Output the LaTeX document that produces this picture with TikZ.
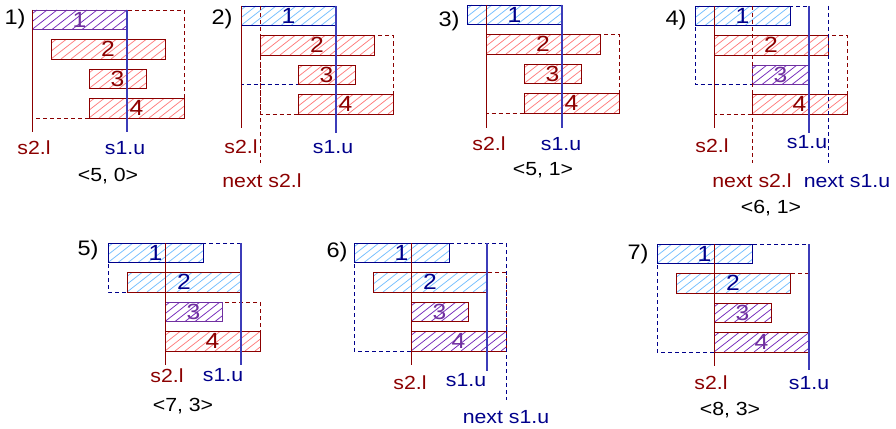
\documentclass[tikz,border=0pt]{standalone}
\usepackage{fontspec}
\setmainfont{Liberation Sans}[FakeStretch=1.12]
\definecolor{dred}{RGB}{139,0,0}
\definecolor{navy}{RGB}{0,0,139}
\definecolor{lnavy}{RGB}{60,60,185}
\definecolor{hred}{RGB}{255,125,125}
\definecolor{hblue}{RGB}{115,190,255}
\definecolor{purp}{RGB}{112,48,160}
\definecolor{hpurp}{RGB}{115,40,185}
\tikzset{
  hatch/.style={path picture={
    \foreach \k in {-3,...,13}
      \draw[#1, line width=0.75pt]
        ([xshift=\k*10pt]path picture bounding box.south west) -- ++(25pt,19.5pt);}},
  barbox/.style={rectangle, inner sep=0pt, outer sep=0pt, minimum height=19.5pt,
    line width=0.9pt, anchor=north west, font=\fontsize{22}{22}\selectfont},
  redbar/.style={barbox, draw=dred, text=dred, hatch=hred},
  bluebar/.style={barbox, draw=navy, text=navy, hatch=hblue},
  bluebarR/.style={barbox, draw=dred, text=navy, hatch=hblue},
  purpbar/.style={barbox, draw=purp, text=purp, hatch=hpurp},
  purpbarR/.style={barbox, draw=dred, text=purp, hatch=hpurp},
  rdash/.style={draw=dred, line width=0.9pt, dash pattern=on 4pt off 3pt},
  bdash/.style={draw=navy, line width=0.9pt, dash pattern=on 4pt off 3pt},
  rsolid/.style={draw=dred, line width=1pt},
  bsolid/.style={draw=lnavy, line width=1.1pt},
  lab/.style={inner sep=0pt, font=\fontsize{19}{19}\selectfont},
  rlab/.style={lab, text=dred},
  blab/.style={lab, text=navy},
  klab/.style={lab, text=black},
  num/.style={inner sep=0pt, text=black, font=\fontsize{21}{21}\selectfont},
}
% one bar: name, style, left (units), width (units), row, text
\newcommand\putbar[6]{\node[#2, minimum width=#4*19pt] (#1) at ({#3*19},{#5*29.5}) {#6};}
% dashed frame: style, left, top row, right, bottom row
\newcommand\frm[5]{\draw[#1] ({#2*19},{#3*29.5}) rectangle ({#4*19},{#5*29.5+19.5});}
% vertical marker: style, x (units), length
\newcommand\vmark[3]{\draw[#1] ({#2*19},0) -- ({#2*19},#3);}
\begin{document}
\begin{tikzpicture}[x=1pt,y=-1pt]
\useasboundingbox (0,0) rectangle (896,428);

% ---- 1)
\begin{scope}[shift={(32,10)}]
  \frm{rdash}{0}{0}{8}{3}
  \putbar{a1}{purpbar}{0}{5}{0}{1}
  \putbar{a2}{redbar}{1}{6}{1}{2}
  \putbar{a3}{redbar}{3}{3}{2}{3}
  \putbar{a4}{redbar}{3}{5}{3}{4}
  \vmark{rsolid}{0}{122}
  \vmark{bsolid}{5}{122}
\end{scope}
\node[num] (n1) at (15,19) {1)};
\node[rlab] (a2l) at (34,148) {s2.l};
\node[blab] (a1u) at (125,148) {s1.u};
\node[klab] (at) at (108,176) {<5, 0>};

% ---- 2)
\begin{scope}[shift={(241,6)}]
  \frm{bdash}{0}{0}{5}{2}
  \frm{rdash}{1}{1}{8}{3}
  \putbar{b1}{bluebar}{0}{5}{0}{1}
  \putbar{b2}{redbar}{1}{6}{1}{2}
  \putbar{b3}{redbar}{3}{3}{2}{3}
  \putbar{b4}{redbar}{3}{5}{3}{4}
  \vmark{rsolid}{0}{122}
  \vmark{bsolid}{5}{127}
  \vmark{rdash}{1}{157}
\end{scope}
\node[num] (n2) at (222,19) {2)};
\node[rlab] (b2l) at (241,147) {s2.l};
\node[blab] (b1u) at (333,147) {s1.u};
\node[rlab] (b2n) at (262,181) {next s2.l};

% ---- 3)
\begin{scope}[shift={(467,5)}]
  \frm{rdash}{1}{1}{8}{3}
  \putbar{c1}{bluebar}{0}{5}{0}{1}
  \putbar{c2}{redbar}{1}{6}{1}{2}
  \putbar{c3}{redbar}{3}{3}{2}{3}
  \putbar{c4}{redbar}{3}{5}{3}{4}
  \vmark{rsolid}{1}{123}
  \vmark{bsolid}{5}{123}
\end{scope}
\node[num] (n3) at (449,21) {3)};
\node[rlab] (c2l) at (489,144) {s2.l};
\node[blab] (c1u) at (561,144) {s1.u};
\node[klab] (ct) at (543,170) {<5, 1>};

% ---- 4)
\begin{scope}[shift={(695,6)}]
  \frm{bdash}{0}{0}{6}{2}
  \frm{rdash}{1}{1}{8}{3}
  \putbar{d1}{bluebar}{0}{5}{0}{1}
  \putbar{d2}{redbar}{1}{6}{1}{2}
  \putbar{d3}{purpbar}{3}{3}{2}{3}
  \putbar{d4}{redbar}{3}{5}{3}{4}
  \vmark{rsolid}{1}{122}
  \vmark{bsolid}{6}{127}
  \vmark{rdash}{3}{157}
  \vmark{bdash}{7}{157}
\end{scope}
\node[num] (n4) at (676,20) {4)};
\node[rlab] (d2l) at (712,146) {s2.l};
\node[blab] (d1u) at (807,142) {s1.u};
\node[rlab] (d2n) at (752,181) {next s2.l};
\node[blab] (d1n) at (847,181) {next s1.u};
\node[klab] (dt) at (771,208) {<6, 1>};

% ---- 5)
\begin{scope}[shift={(108,243)}]
  \frm{bdash}{0}{0}{7}{1}
  \frm{rdash}{3}{2}{8}{3}
  \putbar{e1}{bluebar}{0}{5}{0}{1}
  \putbar{e2}{bluebarR}{1}{6}{1}{2}
  \putbar{e3}{purpbar}{3}{3}{2}{3}
  \putbar{e4}{redbar}{3}{5}{3}{4}
  \vmark{rsolid}{3}{122}
  \vmark{bsolid}{7}{122}
\end{scope}
\node[num] (n5) at (88,250) {5)};
\node[rlab] (e2l) at (167,376) {s2.l};
\node[blab] (e1u) at (223,375) {s1.u};
\node[klab] (et) at (183,406) {<7, 3>};

% ---- 6)
\begin{scope}[shift={(354,243)}]
  \frm{bdash}{0}{0}{8}{3}
  \frm{rdash}{3}{1}{8}{3}
  \putbar{f1}{bluebar}{0}{5}{0}{1}
  \putbar{f2}{bluebarR}{1}{6}{1}{2}
  \putbar{f3}{purpbarR}{3}{3}{2}{3}
  \putbar{f4}{purpbarR}{3}{5}{3}{4}
  \vmark{rsolid}{3}{122}
  \vmark{bsolid}{7}{128}
  \vmark{bdash}{8}{157}
\end{scope}
\node[num] (n6) at (337,252) {6)};
\node[rlab] (f2l) at (410,383) {s2.l};
\node[blab] (f1u) at (466,380) {s1.u};
\node[blab] (f1n) at (506,417) {next s1.u};

% ---- 7)
\begin{scope}[shift={(657,244)}]
  \frm{bdash}{0}{0}{8}{3}
  \frm{rdash}{3}{1}{8}{3}
  \putbar{g1}{bluebar}{0}{5}{0}{1}
  \putbar{g2}{bluebarR}{1}{6}{1}{2}
  \putbar{g3}{purpbarR}{3}{3}{2}{3}
  \putbar{g4}{purpbarR}{3}{5}{3}{4}
  \vmark{rsolid}{3}{122}
  \vmark{bsolid}{8}{126}
\end{scope}
\node[num] (n7) at (638,254) {7)};
\node[rlab] (g2l) at (711,383) {s2.l};
\node[blab] (g1u) at (809,383) {s1.u};
\node[klab] (gt) at (730,410) {<8, 3>};
\end{tikzpicture}
\end{document}
